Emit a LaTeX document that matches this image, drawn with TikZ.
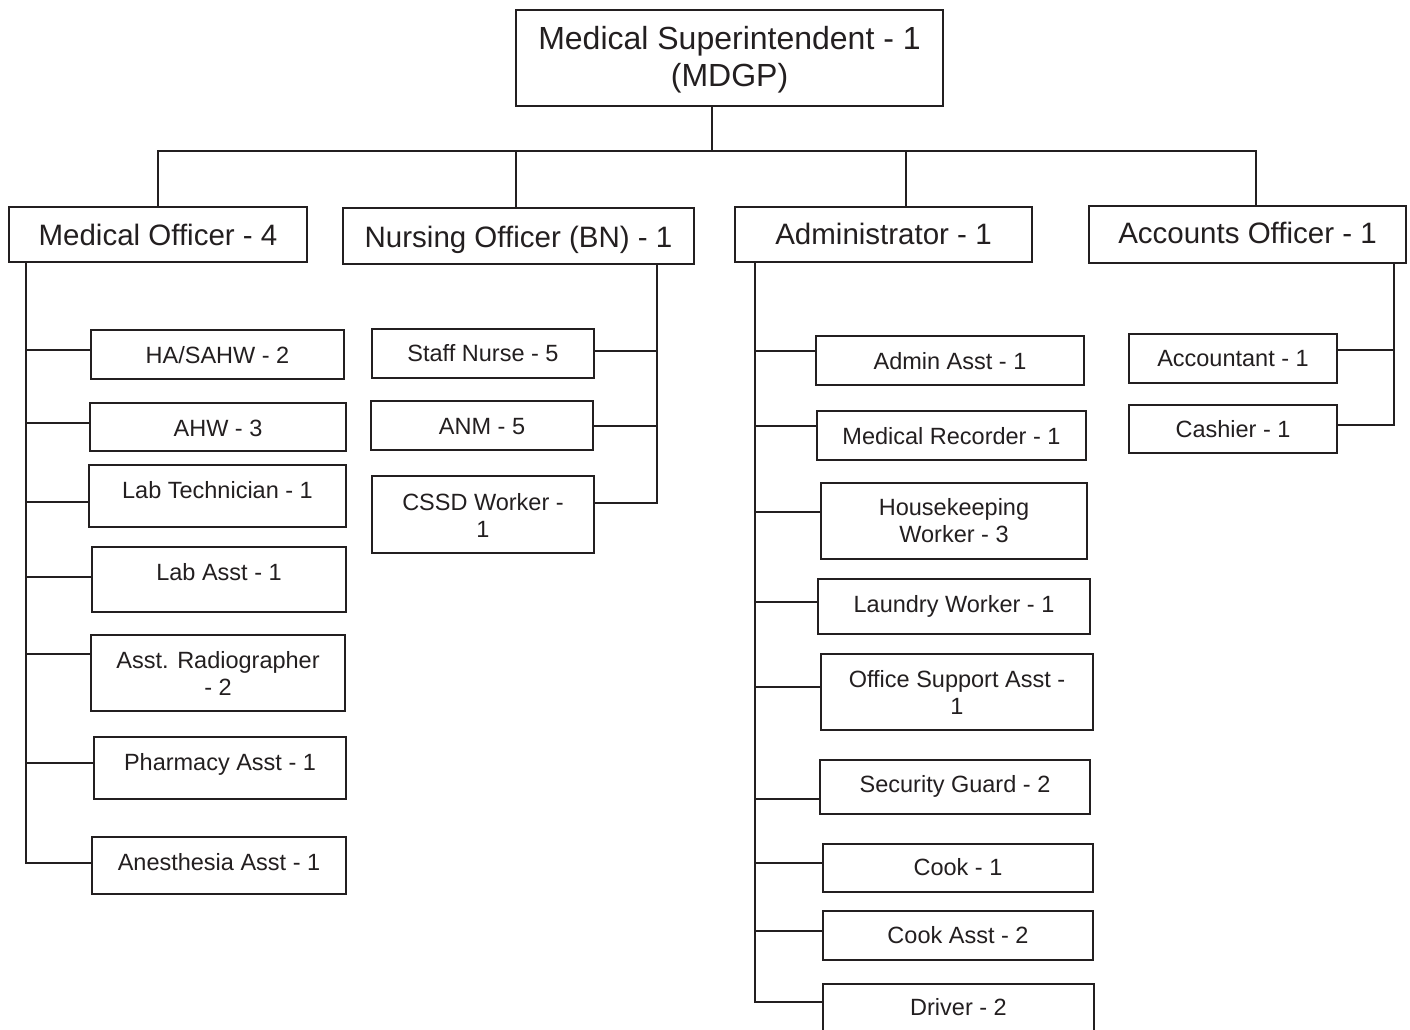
\documentclass[tikz,border=0pt]{standalone}
\usepackage{fontspec}
\setmainfont{Liberation Sans}
\usetikzlibrary{fit}
\definecolor{ink}{RGB}{35,31,32}
\begin{document}
\begin{tikzpicture}[x=1pt,y=-1pt,
  box/.style={draw=ink, line width=1.8pt, inner sep=0pt},
  conn/.style={draw=ink, line width=1.8pt},
  tbig/.style={anchor=base, inner sep=0pt, text=ink, font=\fontsize{32}{36.8}\selectfont},
  tmid/.style={anchor=base, inner sep=0pt, text=ink, font=\fontsize{29.5}{34}\selectfont},
  tsml/.style={anchor=base, inner sep=0pt, text=ink, font=\fontsize{23.5}{27}\selectfont}]
\clip (0,0) rectangle (1410,1030);
\fill[white] (0,0) rectangle (1410,1030);

% top
\node[box, fit={(516,10) (943,106)}] (ms) {};
\node[tbig] at (729.5,50) {\begin{tabular}[t]{@{}c@{}}Medical Superintendent - 1\\(MDGP)\end{tabular}};

% level 2
\node[box, fit={(9,207) (307,262)}] (mo) {};
\node[tmid] at (158,245) {Medical Officer - 4};
\node[box, fit={(343,208) (694,264)}] (no) {};
\node[tmid] at (518.5,247) {Nursing Officer (BN) - 1};
\node[box, fit={(735,207) (1032,262)}] (ad) {};
\node[tmid] at (883.5,244) {Administrator - 1};
\node[box, fit={(1089,206) (1406,263)}] (ao) {};
\node[tmid] at (1247.5,243) {Accounts Officer - 1};

% medical officer children
\node[box, fit={(91,330) (344,379)}] (has) {};
\node[tsml] at (217.5,363) {HA/SAHW - 2};
\node[box, fit={(90,403) (346,451)}] (ahw) {};
\node[tsml] at (218,436) {AHW - 3};
\node[box, fit={(89,465) (346,527)}] (labt) {};
\node[tsml] at (217.5,498) {Lab Technician - 1};
\node[box, fit={(92,547) (346,612)}] (laba) {};
\node[tsml] at (219,580) {Lab Asst - 1};
\node[box, fit={(91,635) (345,711)}] (rad) {};
\node[tsml] at (218,668) {\begin{tabular}[t]{@{}c@{}}Asst. Radiographer\\- 2\end{tabular}};
\node[box, fit={(94,737) (346,799)}] (pha) {};
\node[tsml] at (220,770) {Pharmacy Asst - 1};
\node[box, fit={(92,837) (346,894)}] (ane) {};
\node[tsml] at (219,870) {Anesthesia Asst - 1};

% nursing children
\node[box, fit={(372,329) (594,378)}] (sn) {};
\node[tsml] at (483,361) {Staff Nurse - 5};
\node[box, fit={(371,401) (593,450)}] (anm) {};
\node[tsml] at (482,434) {ANM - 5};
\node[box, fit={(372,476) (594,553)}] (cssd) {};
\node[tsml] at (483,510) {\begin{tabular}[t]{@{}c@{}}CSSD Worker -\\1\end{tabular}};

% administrator children
\node[box, fit={(816,336) (1084,385)}] (aa) {};
\node[tsml] at (950,369) {Admin Asst - 1};
\node[box, fit={(817,411) (1086,460)}] (mr) {};
\node[tsml] at (951.5,444) {Medical Recorder - 1};
\node[box, fit={(821,483) (1087,559)}] (hk) {};
\node[tsml] at (954,515) {\begin{tabular}[t]{@{}c@{}}Housekeeping\\Worker - 3\end{tabular}};
\node[box, fit={(818,579) (1090,634)}] (lw) {};
\node[tsml] at (954,612) {Laundry Worker - 1};
\node[box, fit={(821,654) (1093,730)}] (osa) {};
\node[tsml] at (957,687) {\begin{tabular}[t]{@{}c@{}}Office Support Asst -\\1\end{tabular}};
\node[box, fit={(820,760) (1090,814)}] (sg) {};
\node[tsml] at (955,792) {Security Guard - 2};
\node[box, fit={(823,844) (1093,892)}] (ck) {};
\node[tsml] at (958,875) {Cook - 1};
\node[box, fit={(823,911) (1093,960)}] (ca) {};
\node[tsml] at (958,943) {Cook Asst - 2};
\node[box, fit={(823,984) (1094,1045)}] (dr) {};
\node[tsml] at (958.5,1015) {Driver - 2};

% accounts children
\node[box, fit={(1129,334) (1337,383)}] (acc) {};
\node[tsml] at (1233,366) {Accountant - 1};
\node[box, fit={(1129,405) (1337,453)}] (cas) {};
\node[tsml] at (1233,437) {Cashier - 1};

% top connectors
\coordinate (bt) at (712,151);
\coordinate (d1) at (158,151);
\coordinate (d2) at (516,151);
\coordinate (d3) at (906,151);
\coordinate (d4) at (1256,151);
\draw[conn] (bt |- ms.south) -- (bt);
\draw[conn] (d1 |- mo.north) -- (d1) -- (d4) -- (d4 |- ao.north);
\draw[conn] (d2) -- (d2 |- no.north);
\draw[conn] (d3) -- (d3 |- ad.north);

% medical spine
\coordinate (m1) at (26,350);
\coordinate (m2) at (26,423);
\coordinate (m3) at (26,502);
\coordinate (m4) at (26,577);
\coordinate (m5) at (26,654);
\coordinate (m6) at (26,763);
\coordinate (m7) at (26,863);
\draw[conn] (m1 |- mo.south) -- (m7) -- (m7 -| ane.west);
\foreach \c/\n in {m1/has, m2/ahw, m3/labt, m4/laba, m5/rad, m6/pha}
  \draw[conn] (\c) -- (\c -| \n.west);

% nursing spine
\coordinate (n1) at (657,351);
\coordinate (n2) at (657,426);
\coordinate (n3) at (657,503);
\draw[conn] (n1 |- no.south) -- (n3) -- (n3 -| cssd.east);
\foreach \c/\n in {n1/sn, n2/anm}
  \draw[conn] (\c) -- (\c -| \n.east);

% administrator spine
\coordinate (a1) at (755,351);
\coordinate (a2) at (755,426);
\coordinate (a3) at (755,512);
\coordinate (a4) at (755,602);
\coordinate (a5) at (755,687);
\coordinate (a6) at (755,799);
\coordinate (a7) at (755,863);
\coordinate (a8) at (755,931);
\coordinate (a9) at (755,1002);
\draw[conn] (a1 |- ad.south) -- (a9) -- (a9 -| dr.west);
\foreach \c/\n in {a1/aa, a2/mr, a3/hk, a4/lw, a5/osa, a6/sg, a7/ck, a8/ca}
  \draw[conn] (\c) -- (\c -| \n.west);

% accounts spine
\coordinate (c1) at (1394,350);
\coordinate (c2) at (1394,425);
\draw[conn] (c1 |- ao.south) -- (c2) -- (c2 -| cas.east);
\draw[conn] (c1) -- (c1 -| acc.east);
\end{tikzpicture}
\end{document}
